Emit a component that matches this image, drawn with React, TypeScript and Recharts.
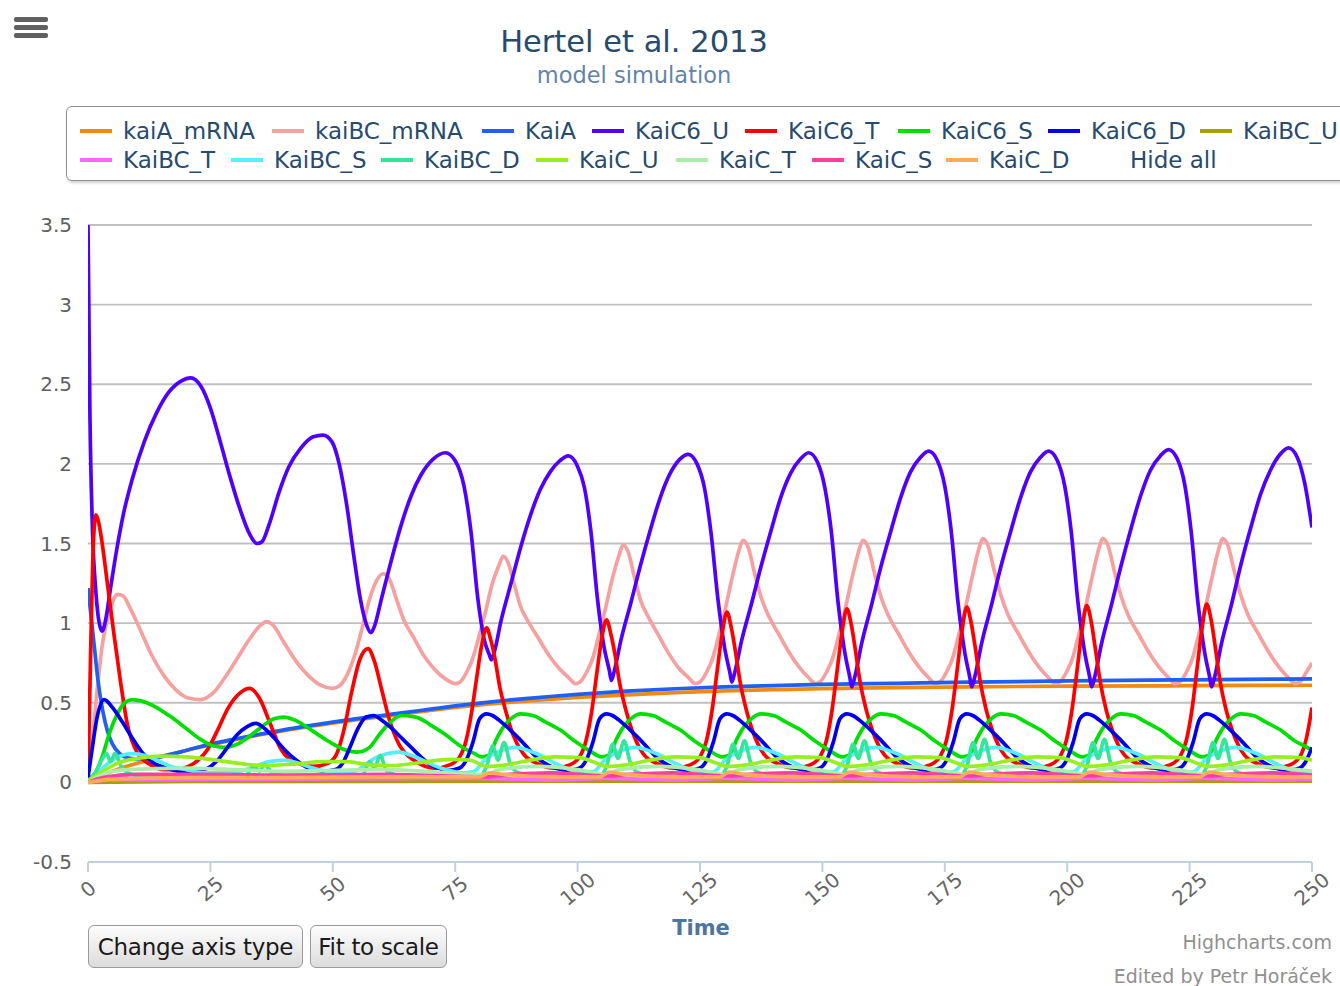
import React from 'react';
import { LineChart, Line, XAxis, YAxis, CartesianGrid } from 'recharts';

type Pt = [number, number];

// ---------- data (time, value) ----------
const kaiA_mRNA: Pt[] = [[0,0],[2,0.03],[5,0.07],[10,0.12],[15,0.16],[20,0.2],[25,0.235],[30,0.268],[35,0.298],[40,0.325],[45,0.35],[50,0.372],[55,0.393],[60,0.413],[65,0.433],[70,0.452],[75,0.47],[80,0.486],[85,0.5],[90,0.512],[95,0.523],[100,0.533],[110,0.55],[120,0.563],[130,0.574],[140,0.582],[150,0.589],[165,0.595],[180,0.6],[200,0.604],[225,0.607],[250,0.61]];

const kaiBC_mRNA: Pt[] = [[0,0.05],[1,0.3],[2,0.62],[3,0.88],[4.5,1.08],[6,1.18],[7.2,1.17],[8.5,1.1],[10.5,0.97],[13,0.8],[15.5,0.67],[18,0.58],[20.5,0.53],[23,0.52],[25.5,0.56],[28,0.66],[30.5,0.78],[33,0.9],[35,0.98],[36.5,1.01],[38,0.98],[40,0.88],[42.5,0.76],[45,0.67],[47.5,0.61],[50,0.59],[51.5,0.61],[53,0.68],[54.5,0.8],[56,0.97],[57.5,1.15],[59,1.27],[60.3,1.31],[61.5,1.28],[63,1.15],[64.5,1.02],[66.5,0.91],[68.5,0.8],[70.5,0.72],[73,0.65],[75.1,0.62],
[76.3,0.64],[77.3,0.69],[78.6,0.78],[79.8,0.91],[81.1,1.06],[82.6,1.25],[83.9,1.36],[84.8,1.42],[85.8,1.38],[87.1,1.24],[88.4,1.1],[90.1,1.0],[92.1,0.9],[94.1,0.8],[96.1,0.72],[98.1,0.66],[99.6,0.62],
[100.8,0.64],[101.8,0.69],[103.1,0.78],[104.3,0.92],[105.6,1.08],[107.1,1.28],[108.4,1.42],[109.3,1.49],[110.3,1.45],[111.6,1.29],[112.9,1.14],[114.6,1.03],[116.6,0.92],[118.6,0.81],[120.6,0.72],[122.6,0.66],[124.1,0.62],
[125.3,0.64],[126.3,0.69],[127.6,0.78],[128.8,0.92],[130.1,1.08],[131.6,1.29],[132.9,1.45],[133.8,1.52],[134.8,1.48],[136.1,1.32],[137.4,1.17],[139.1,1.04],[141.1,0.93],[143.1,0.82],[145.1,0.73],[147.1,0.66],[148.6,0.62],
[149.8,0.64],[150.8,0.69],[152.1,0.78],[153.3,0.92],[154.6,1.08],[156.1,1.29],[157.4,1.45],[158.3,1.52],[159.3,1.48],[160.6,1.32],[161.9,1.17],[163.6,1.04],[165.6,0.93],[167.6,0.82],[169.6,0.73],[171.6,0.66],[173.1,0.62],
[174.3,0.64],[175.3,0.69],[176.6,0.78],[177.8,0.92],[179.1,1.08],[180.6,1.29],[181.9,1.46],[182.8,1.53],[183.8,1.49],[185.1,1.33],[186.4,1.18],[188.1,1.04],[190.1,0.93],[192.1,0.82],[194.1,0.73],[196.1,0.66],[197.6,0.62],
[198.8,0.64],[199.8,0.69],[201.1,0.78],[202.3,0.92],[203.6,1.08],[205.1,1.29],[206.4,1.46],[207.3,1.53],[208.3,1.49],[209.6,1.33],[210.9,1.18],[212.6,1.04],[214.6,0.93],[216.6,0.82],[218.6,0.73],[220.6,0.66],[222.1,0.62],
[223.3,0.64],[224.3,0.69],[225.6,0.78],[226.8,0.92],[228.1,1.08],[229.6,1.29],[230.9,1.46],[231.8,1.53],[232.8,1.49],[234.1,1.33],[235.4,1.18],[237.1,1.04],[239.1,0.93],[241.1,0.82],[243.1,0.73],[245.1,0.66],[246.6,0.62],
[247.8,0.64],[248.8,0.69],[250,0.75]];

const KaiA: Pt[] = [[0,1.22],[0.6,1.05],[1.3,0.85],[2,0.65],[3,0.45],[4,0.32],[5,0.24],[6.5,0.18],[8,0.155],[10,0.148],[13,0.152],[16,0.17],[20,0.2],[25,0.24],[30,0.272],[35,0.302],[40,0.33],[45,0.355],[50,0.378],[55,0.4],[60,0.42],[65,0.44],[70,0.46],[75,0.48],[80,0.498],[85,0.514],[90,0.528],[95,0.541],[100,0.553],[110,0.573],[120,0.588],[130,0.6],[140,0.608],[150,0.615],[165,0.622],[180,0.629],[200,0.637],[225,0.644],[250,0.65]];

const KaiC6_U: Pt[] = [[0,3.5],[0.4,2.3],[0.9,1.6],[1.6,1.2],[2.3,1.0],[2.9,0.95],[3.6,1.02],[4.6,1.22],[5.8,1.45],[7.2,1.68],[9,1.9],[11.5,2.14],[14,2.32],[16.5,2.45],[19,2.52],[21,2.54],[23,2.49],[25,2.35],[27,2.14],[29,1.92],[31,1.72],[33,1.56],[34.5,1.5],[35.5,1.51],[37,1.62],[39,1.82],[41,1.98],[43.5,2.1],[46,2.17],[48,2.18],[49.8,2.14],[51.3,2.0],[52.8,1.75],[54.3,1.42],[55.7,1.14],[57,0.98],[57.8,0.94],[58.5,0.98],[60,1.16],[62,1.4],[64,1.62],[66,1.8],[68,1.93],[70.5,2.03],[73,2.07],[75,2.02],[76.8,1.86],[78.2,1.58],[79.6,1.16],[80.9,0.9],[82,0.8],[82.4,0.77],[83,0.82],
[84.4,1.02],[86.4,1.25],[88.4,1.48],[90.4,1.68],[92.4,1.84],[94.4,1.95],[96.4,2.02],[98.1,2.05],
[99.9,1.99],[101.4,1.85],[102.7,1.58],[104.1,1.14],[105.4,0.85],[106.5,0.7],[106.9,0.64],[107.5,0.7],
[108.9,0.9],[110.9,1.13],[112.9,1.37],[114.9,1.59],[116.9,1.79],[118.9,1.94],[120.9,2.03],[122.6,2.06],
[124.4,2.0],[125.9,1.85],[127.2,1.58],[128.7,1.14],[130,0.85],[131.1,0.69],[131.5,0.63],[132.1,0.69],
[133.5,0.89],[135.5,1.12],[137.5,1.36],[139.5,1.58],[141.5,1.79],[143.5,1.94],[145.5,2.03],[147.2,2.07],
[149,2.01],[150.5,1.85],[151.8,1.58],[153.2,1.13],[154.5,0.83],[155.6,0.66],[156,0.6],[156.6,0.66],
[158,0.87],[160,1.11],[162,1.36],[164,1.58],[166,1.79],[168,1.95],[170,2.04],[171.7,2.08],
[173.5,2.02],[175,1.86],[176.3,1.58],[177.7,1.13],[179,0.83],[180.1,0.66],[180.5,0.6],[181.1,0.66],
[182.5,0.87],[184.5,1.11],[186.5,1.36],[188.5,1.58],[190.5,1.79],[192.5,1.95],[194.5,2.04],[196.2,2.08],
[198,2.02],[199.5,1.86],[200.8,1.58],[202.2,1.13],[203.5,0.83],[204.6,0.66],[205,0.6],[205.6,0.66],
[207,0.87],[209,1.11],[211,1.36],[213,1.59],[215,1.8],[217,1.96],[219,2.05],[220.7,2.09],
[222.5,2.03],[224,1.87],[225.3,1.58],[226.7,1.13],[228,0.83],[229.1,0.66],[229.5,0.6],[230.1,0.66],
[231.5,0.87],[233.5,1.11],[235.5,1.37],[237.5,1.6],[239.5,1.81],[241.5,1.96],[243.5,2.06],[245.2,2.1],
[247,2.04],[248.5,1.88],[250,1.6]];

const KaiC6_T: Pt[] = [[0,0.02],[0.6,0.9],[1.1,1.5],[1.6,1.68],[2.2,1.63],[2.8,1.52],[4,1.24],[5.3,0.93],[6.7,0.62],[8,0.37],[10,0.19],[12.8,0.11],[15.5,0.08],[18.2,0.08],[20.5,0.1],[22.5,0.14],[24.5,0.21],[26.5,0.33],[28.5,0.46],[31,0.56],[33,0.59],[35,0.53],[37.2,0.37],[39.2,0.22],[42,0.13],[46,0.1],[49,0.12],[50.8,0.18],[52.2,0.32],[53.8,0.56],[55.5,0.77],[57.2,0.84],[58.5,0.76],[60,0.58],[61.5,0.4],[63.5,0.24],[66.5,0.14],[70.9,0.09],
[73.9,0.11],[75.9,0.16],[77.2,0.26],[78.4,0.45],[79.4,0.66],[80.4,0.86],[81.4,0.97],[82.3,0.89],[83.1,0.78],[84.1,0.6],[85.4,0.44],[86.8,0.3],[88.9,0.18],[91.6,0.12],[95.4,0.09],
[98.4,0.11],[100.4,0.16],[101.7,0.26],[102.9,0.45],[103.9,0.68],[104.9,0.9],[105.9,1.02],[106.8,0.93],[107.6,0.81],[108.6,0.62],[109.9,0.45],[111.3,0.31],[113.4,0.18],[116.1,0.12],[119.9,0.09],
[123,0.11],[125,0.16],[126.3,0.26],[127.5,0.46],[128.5,0.7],[129.5,0.93],[130.5,1.07],[131.4,0.97],[132.2,0.83],[133.2,0.63],[134.5,0.45],[135.9,0.31],[138,0.18],[140.7,0.12],[144.5,0.09],
[147.5,0.11],[149.5,0.16],[150.8,0.26],[152,0.46],[153,0.7],[154,0.94],[155,1.09],[155.9,0.99],[156.7,0.84],[157.7,0.63],[159,0.45],[160.4,0.31],[162.5,0.18],[165.2,0.12],[169,0.09],
[172,0.11],[174,0.16],[175.3,0.26],[176.5,0.46],[177.5,0.7],[178.5,0.95],[179.5,1.1],[180.4,1.0],[181.2,0.85],[182.2,0.64],[183.5,0.45],[184.9,0.31],[187,0.18],[189.7,0.12],[193.5,0.09],
[196.5,0.11],[198.5,0.16],[199.8,0.26],[201,0.46],[202,0.7],[203,0.95],[204,1.11],[204.9,1.01],[205.7,0.85],[206.7,0.64],[208,0.45],[209.4,0.31],[211.5,0.18],[214.2,0.12],[218,0.09],
[221,0.11],[223,0.16],[224.3,0.26],[225.5,0.46],[226.5,0.71],[227.5,0.96],[228.5,1.12],[229.4,1.02],[230.2,0.86],[231.2,0.64],[232.5,0.45],[233.9,0.31],[236,0.18],[238.7,0.12],[242.5,0.09],
[245.5,0.11],[247.5,0.16],[248.8,0.27],[250,0.47]];

const KaiC6_S: Pt[] = [[0,0.02],[1.5,0.06],[3,0.17],[4.5,0.32],[6,0.43],[7.5,0.5],[9,0.52],[11,0.51],[14,0.47],[17,0.41],[20,0.34],[23,0.27],[25.5,0.23],[28,0.22],[30.5,0.24],[33,0.29],[35.5,0.35],[38,0.4],[40,0.41],[43,0.38],[46,0.32],[49,0.26],[52,0.21],[55,0.19],[57.5,0.22],[59.5,0.3],[61.5,0.37],[64,0.42],[67,0.41],[70,0.36],[73,0.3],[76,0.23],[79,0.18],[80.4,0.16],
[81.9,0.17],[83.4,0.27],[84.9,0.35],[86.4,0.4],[88.4,0.43],[90.9,0.42],[93.4,0.38],[96.4,0.33],[99.4,0.26],[102.4,0.2],[104.9,0.16],
[106.4,0.17],[107.9,0.27],[109.4,0.35],[110.9,0.4],[112.9,0.43],[115.4,0.42],[117.9,0.38],[120.9,0.33],[123.9,0.26],[126.9,0.2],[129.5,0.16],
[131,0.17],[132.5,0.27],[134,0.35],[135.5,0.4],[137.5,0.43],[140,0.42],[142.5,0.38],[145.5,0.33],[148.5,0.26],[151.5,0.2],[154,0.16],
[155.5,0.17],[157,0.27],[158.5,0.35],[160,0.4],[162,0.43],[164.5,0.42],[167,0.38],[170,0.33],[173,0.26],[176,0.2],[178.5,0.16],
[180,0.17],[181.5,0.27],[183,0.35],[184.5,0.4],[186.5,0.43],[189,0.42],[191.5,0.38],[194.5,0.33],[197.5,0.26],[200.5,0.2],[203,0.16],
[204.5,0.17],[206,0.27],[207.5,0.35],[209,0.4],[211,0.43],[213.5,0.42],[216,0.38],[219,0.33],[222,0.26],[225,0.2],[227.5,0.16],
[229,0.17],[230.5,0.27],[232,0.35],[233.5,0.4],[235.5,0.43],[238,0.42],[240.5,0.38],[243.5,0.33],[246.5,0.26],[249,0.22],[250,0.2]];

const KaiC6_D: Pt[] = [[0,0.03],[0.8,0.2],[1.8,0.4],[3.3,0.52],[5,0.47],[7,0.38],[9,0.28],[11,0.19],[13.5,0.12],[16,0.09],[19,0.07],[22,0.07],[24.5,0.09],[26.5,0.14],[28.5,0.22],[30.5,0.3],[32.5,0.35],[34.3,0.37],[36,0.34],[38,0.28],[40,0.21],[42.5,0.14],[45,0.09],[48,0.07],[50.5,0.08],[52,0.12],[53.5,0.22],[55,0.33],[56.8,0.41],[58.4,0.42],[60,0.39],[62,0.34],[64,0.28],[66,0.22],[68,0.16],[70,0.11],[72,0.085],[73.4,0.075],
[75.9,0.09],[77.1,0.13],[78.6,0.25],[80,0.4],[81.4,0.43],[82.6,0.42],[84.4,0.38],[86.2,0.33],[88.2,0.27],[90,0.21],[91.9,0.15],[93.9,0.11],[95.9,0.085],[97.9,0.075],
[100.4,0.09],[101.6,0.13],[103.1,0.25],[104.5,0.4],[105.9,0.43],[107.1,0.42],[108.9,0.38],[110.7,0.33],[112.7,0.27],[114.5,0.21],[116.4,0.15],[118.4,0.11],[120.4,0.085],[122.4,0.075],
[125,0.09],[126.2,0.13],[127.7,0.25],[129.1,0.4],[130.5,0.43],[131.7,0.42],[133.5,0.38],[135.3,0.33],[137.3,0.27],[139.1,0.21],[141,0.15],[143,0.11],[145,0.085],[147,0.075],
[149.5,0.09],[150.7,0.13],[152.2,0.25],[153.6,0.4],[155,0.43],[156.2,0.42],[158,0.38],[159.8,0.33],[161.8,0.27],[163.6,0.21],[165.5,0.15],[167.5,0.11],[169.5,0.085],[171.5,0.075],
[174,0.09],[175.2,0.13],[176.7,0.25],[178.1,0.4],[179.5,0.43],[180.7,0.42],[182.5,0.38],[184.3,0.33],[186.3,0.27],[188.1,0.21],[190,0.15],[192,0.11],[194,0.085],[196,0.075],
[198.5,0.09],[199.7,0.13],[201.2,0.25],[202.6,0.4],[204,0.43],[205.2,0.42],[207,0.38],[208.8,0.33],[210.8,0.27],[212.6,0.21],[214.5,0.15],[216.5,0.11],[218.5,0.085],[220.5,0.075],
[223,0.09],[224.2,0.13],[225.7,0.25],[227.1,0.4],[228.5,0.43],[229.7,0.42],[231.5,0.38],[233.3,0.33],[235.3,0.27],[237.1,0.21],[239,0.15],[241,0.11],[243,0.085],[245,0.075],
[247.5,0.09],[248.7,0.13],[250,0.22]];

const KaiBC_U: Pt[] = [[0,0],[20,0.006],[100,0.008],[250,0.008]];

const KaiBC_T: Pt[] = [[0,0],[4,0.015],[30,0.02],[81,0.025],[95,0.015],[106,0.025],[120,0.015],[130.5,0.025],[145,0.015],[155,0.025],[169,0.015],[179.5,0.025],[194,0.015],[204,0.025],[218,0.015],[228.5,0.025],[243,0.015],[250,0.02]];

const KaiBC_S: Pt[] = [[0,0],[1.5,0.04],[3,0.09],[5,0.14],[7,0.17],[9,0.18],[11.5,0.17],[14,0.14],[17,0.1],[20,0.08],[24,0.06],[28,0.06],[31,0.07],[34,0.1],[37,0.13],[40,0.14],[43,0.12],[46,0.09],[49,0.07],[52.2,0.065],[54.5,0.07],[56.5,0.11],[58.5,0.15],[61,0.18],[63.5,0.19],[66,0.17],[69,0.13],[72,0.09],[74.5,0.07],[76.4,0.06],
[78.9,0.07],[80.7,0.13],[82.4,0.17],[84.4,0.2],[87.4,0.22],[89.9,0.2],[92.4,0.17],[95.4,0.12],[98.4,0.08],[100.9,0.06],
[103.4,0.07],[105.2,0.13],[106.9,0.17],[108.9,0.2],[111.9,0.22],[114.4,0.2],[116.9,0.17],[119.9,0.12],[122.9,0.08],[125.5,0.06],
[128,0.07],[129.8,0.13],[131.5,0.17],[133.5,0.2],[136.5,0.22],[139,0.2],[141.5,0.17],[144.5,0.12],[147.5,0.08],[150,0.06],
[152.5,0.07],[154.3,0.13],[156,0.17],[158,0.2],[161,0.22],[163.5,0.2],[166,0.17],[169,0.12],[172,0.08],[174.5,0.06],
[177,0.07],[178.8,0.13],[180.5,0.17],[182.5,0.2],[185.5,0.22],[188,0.2],[190.5,0.17],[193.5,0.12],[196.5,0.08],[199,0.06],
[201.5,0.07],[203.3,0.13],[205,0.17],[207,0.2],[210,0.22],[212.5,0.2],[215,0.17],[218,0.12],[221,0.08],[223.5,0.06],
[226,0.07],[227.8,0.13],[229.5,0.17],[231.5,0.2],[234.5,0.22],[237,0.2],[239.5,0.17],[242.5,0.12],[245.5,0.08],[248,0.06],[250,0.065]];

const KaiBC_D: Pt[] = [[0,0],[1.5,0.06],[3,0.15],[3.8,0.18],[4.6,0.13],[5.5,0.18],[6.8,0.1],[9,0.05],[14,0.03],[25,0.03],[32,0.04],[34,0.1],[35,0.07],[36,0.11],[38,0.05],[45,0.03],[56,0.04],[57.5,0.13],[58.5,0.09],[59.7,0.17],[61,0.07],[65,0.035],[79.9,0.04],
[81.4,0.1],[82.7,0.23],[83.7,0.14],[85,0.25],[86.2,0.12],[87.9,0.06],[91.4,0.04],[104.4,0.04],
[105.9,0.1],[107.2,0.24],[108.2,0.15],[109.5,0.26],[110.7,0.13],[112.4,0.06],[115.9,0.04],[129,0.04],
[130.5,0.1],[131.8,0.24],[132.8,0.15],[134.1,0.26],[135.3,0.13],[137,0.06],[140.5,0.04],[153.5,0.04],
[155,0.1],[156.3,0.24],[157.3,0.15],[158.6,0.26],[159.8,0.13],[161.5,0.06],[165,0.04],[178,0.04],
[179.5,0.1],[180.8,0.25],[181.8,0.15],[183.1,0.27],[184.3,0.13],[186,0.06],[189.5,0.04],[202.5,0.04],
[204,0.1],[205.3,0.25],[206.3,0.15],[207.6,0.27],[208.8,0.13],[210.5,0.06],[214,0.04],[227,0.04],
[228.5,0.1],[229.8,0.25],[230.8,0.15],[232.1,0.27],[233.3,0.13],[235,0.06],[238.5,0.04],[250,0.04]];

const KaiC_U: Pt[] = [[0,0.01],[3,0.07],[6,0.12],[10,0.15],[15,0.165],[20,0.16],[26,0.14],[32,0.115],[36,0.105],[42,0.115],[48,0.13],[53,0.13],[57.5,0.11],[62,0.105],[68,0.125],[74,0.145],[78,0.14],[81.4,0.1],
[85.4,0.11],[90.4,0.14],[95.4,0.16],[100.4,0.155],[103.9,0.12],[105.9,0.1],
[109.9,0.11],[114.9,0.14],[119.9,0.16],[124.9,0.155],[128.4,0.12],[130.5,0.1],
[134.5,0.11],[139.5,0.14],[144.5,0.16],[149.5,0.155],[153,0.12],[155,0.1],
[159,0.11],[164,0.14],[169,0.16],[174,0.155],[177.5,0.12],[179.5,0.1],
[183.5,0.11],[188.5,0.14],[193.5,0.16],[198.5,0.155],[202,0.12],[204,0.1],
[208,0.11],[213,0.14],[218,0.16],[223,0.155],[226.5,0.12],[228.5,0.1],
[232.5,0.11],[237.5,0.14],[242.5,0.16],[247.5,0.155],[250,0.14]];

const KaiC_T: Pt[] = [[0,0],[3,0.05],[8,0.08],[20,0.09],[40,0.07],[60,0.08],[81.4,0.05],[84,0.08],[92,0.1],[100,0.08],[105.9,0.05],[108.5,0.08],[116.5,0.1],[124.5,0.08],[130.5,0.05],[133,0.08],[141,0.1],[149,0.08],[155,0.05],[157.5,0.08],[165.5,0.1],[173.5,0.08],[179.5,0.05],[182,0.08],[190,0.1],[198,0.08],[204,0.05],[206.5,0.08],[214.5,0.1],[222.5,0.08],[228.5,0.05],[231,0.08],[239,0.1],[247,0.08],[250,0.07]];

const KaiC_S: Pt[] = [[0,0],[3,0.03],[10,0.05],[25,0.05],[40,0.045],[60,0.05],[81.4,0.035],[86,0.05],[95,0.06],[105.9,0.04],[110.5,0.05],[119.5,0.06],[130.5,0.04],[135,0.05],[144,0.06],[155,0.04],[159.5,0.05],[168.5,0.06],[179.5,0.04],[184,0.05],[193,0.06],[204,0.04],[208.5,0.05],[217.5,0.06],[228.5,0.04],[233,0.05],[242,0.06],[250,0.045]];

const KaiC_D: Pt[] = [[0,0],[5,0.02],[20,0.03],[40,0.03],[60,0.035],[80,0.035],[82,0.06],[85,0.05],[95,0.035],[104.5,0.035],[106.5,0.065],[109.5,0.05],[119.5,0.035],[129,0.035],[131,0.065],[134,0.05],[144,0.035],[153.5,0.035],[155.5,0.065],[158.5,0.05],[168.5,0.035],[178,0.035],[180,0.065],[183,0.05],[193,0.035],[202.5,0.035],[204.5,0.065],[207.5,0.05],[217.5,0.035],[227,0.035],[229,0.065],[232,0.05],[242,0.035],[250,0.035]];

const SERIES_NAMES = ['kaiA_mRNA','kaiBC_mRNA','KaiA','KaiC6_U','KaiC6_T','KaiC6_S','KaiC6_D','KaiBC_U','KaiBC_T','KaiBC_S','KaiBC_D','KaiC_U','KaiC_T','KaiC_S','KaiC_D'];
const SERIES_COLORS = ['#f08a14','#f7a0a0','#1f5ff2','#5000ff','#ff0000','#00e000','#0000ee','#a8a000','#ff66ff','#55eeff','#33e699','#99ee22','#aaeeaa','#ff3fa0','#ffaa55'];
const SERIES_DATA: Pt[][] = [kaiA_mRNA, kaiBC_mRNA, KaiA, KaiC6_U, KaiC6_T, KaiC6_S, KaiC6_D, KaiBC_U, KaiBC_T, KaiBC_S, KaiBC_D, KaiC_U, KaiC_T, KaiC_S, KaiC_D];

const X_TICKS = [0,25,50,75,100,125,150,175,200,225,250];
const Y_TICKS = [-0.5,0,0.5,1,1.5,2,2.5,3,3.5];
const GRID_VALUES = [0,0.5,1,1.5,2,2.5,3,3.5];

// ---------- layout ----------
const FONT = '"DejaVu Sans", Verdana, sans-serif';
const LEGEND_POS: [number, number][] = [[80,131],[272,131],[482,131],[592,131],[745,131],[898,131],[1048,131],[1200,131],[80,160],[231,160],[381,160],[536,160],[676,160],[812,160],[946,160]];

const rows = (pts: Pt[]) => pts.map(([t, v]) => ({ t, v }));

const XTick = (props: any) => {
  const { x, y, payload } = props;
  return (
    <text x={0} y={0} transform={`translate(${x},${y + 15}) rotate(-40)`} textAnchor="middle" dominantBaseline="central" fill="#666" fontSize={20} fontFamily={FONT}>
      {payload.value}
    </text>
  );
};

const Button = ({ left, width, label }: { left: number; width: number; label: string }) => (
  <div style={{ position: 'absolute', left, top: 925, width, height: 43, boxSizing: 'border-box', border: '1.5px solid #9a9a9a', borderRadius: 6, background: 'linear-gradient(#fdfdfd, #dcdcdc)', display: 'flex', alignItems: 'center', justifyContent: 'center', fontSize: 23, color: '#1a1a1a', fontFamily: FONT, whiteSpace: 'nowrap', letterSpacing: -0.3 }}>{label}</div>
);

export default function App() {
  return (
    <div style={{ position: 'absolute', left: 0, top: 0, width: 1340, height: 986, overflow: 'hidden', background: '#fff', fontFamily: FONT }}>
      <div style={{ position: 'absolute', left: 0, top: 0 }}>
        <LineChart width={1340} height={986} margin={{ top: 225, right: 28, bottom: 64, left: 0 }}>
          <CartesianGrid vertical={false} stroke="#c0c0c0" strokeWidth={1.8} horizontalValues={GRID_VALUES} />
          <XAxis type="number" dataKey="t" domain={[0, 250]} ticks={X_TICKS} interval={0} allowDataOverflow height={60}
            tick={<XTick />} tickSize={10} tickMargin={2} tickLine={{ stroke: '#c0d0e0', strokeWidth: 2 }} axisLine={{ stroke: '#c0d0e0', strokeWidth: 2 }} />
          <YAxis type="number" domain={[-0.5, 3.5]} ticks={Y_TICKS} interval={0} allowDataOverflow width={88}
            tickLine={false} axisLine={false} tickSize={0} tickMargin={16} tick={{ fill: '#606060', fontSize: 20, fontFamily: FONT }} />
          {SERIES_NAMES.map((name, i) => (
            <Line key={name} name={name} data={rows(SERIES_DATA[i])} dataKey="v" type="monotone" stroke={SERIES_COLORS[i]}
              strokeWidth={3.7} dot={false} activeDot={false} isAnimationActive={false} />
          ))}
        </LineChart>
      </div>

      {/* menu icon */}
      {[17, 25, 33].map((t) => (
        <div key={t} style={{ position: 'absolute', left: 14, top: t, width: 34, height: 5, borderRadius: 2, background: '#606060' }} />
      ))}

      {/* title */}
      <div style={{ position: 'absolute', left: 0, width: 1268, top: 25, height: 34, lineHeight: '34px', textAlign: 'center', fontSize: 30.5, color: '#274b6d' }}>Hertel et al. 2013</div>
      <div style={{ position: 'absolute', left: 0, width: 1268, top: 62, height: 26, lineHeight: '26px', textAlign: 'center', fontSize: 22.5, color: '#6384aa' }}>model simulation</div>

      {/* legend */}
      <div style={{ position: 'absolute', left: 66, top: 106, width: 1300, height: 75, boxSizing: 'border-box', border: '1.5px solid #909090', borderRadius: 6, boxShadow: '1px 2px 3px rgba(0,0,0,0.18)', background: '#fff' }} />
      {SERIES_NAMES.map((name, i) => (
        <div key={name} style={{ position: 'absolute', left: LEGEND_POS[i][0], top: LEGEND_POS[i][1] - 13, height: 26, display: 'flex', alignItems: 'center', whiteSpace: 'nowrap' }}>
          <div style={{ width: 32, height: 4, background: SERIES_COLORS[i], marginRight: 11 }} />
          <span style={{ fontSize: 23, color: '#274b6d', lineHeight: '26px' }}>{name}</span>
        </div>
      ))}
      <div style={{ position: 'absolute', left: 1130, top: 147, height: 26, lineHeight: '26px', fontSize: 23, color: '#274b6d' }}>Hide all</div>

      {/* axis title */}
      <div style={{ position: 'absolute', left: 600, width: 202, top: 915, height: 26, lineHeight: '26px', textAlign: 'center', fontSize: 21, fontWeight: 'bold', color: '#4d759e' }}>Time</div>

      {/* buttons */}
      <Button left={88} width={215} label="Change axis type" />
      <Button left={310} width={137} label="Fit to scale" />

      {/* credits */}
      <div style={{ position: 'absolute', right: 8, top: 929, fontSize: 19, color: '#909090', lineHeight: '26px' }}>Highcharts.com</div>
      <div style={{ position: 'absolute', right: 8, top: 963, fontSize: 19, color: '#909090', lineHeight: '26px', whiteSpace: 'nowrap' }}>Edited by Petr Horáček</div>
    </div>
  );
}
